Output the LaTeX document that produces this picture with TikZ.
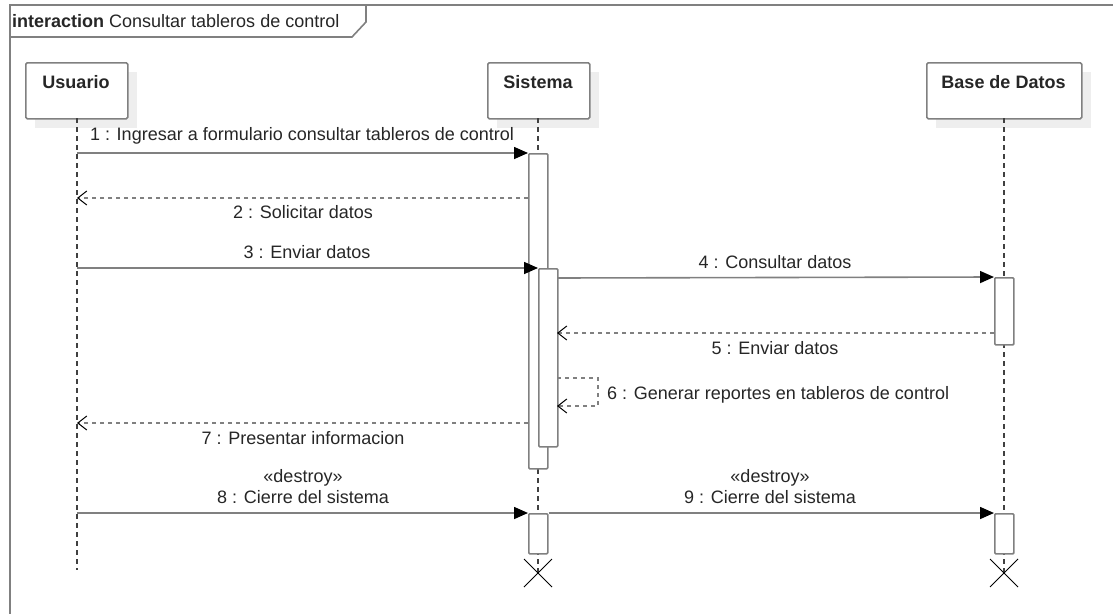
\documentclass[tikz,border=0pt]{standalone}
\usepackage{fontspec}
\setmainfont{Liberation Sans}
\usetikzlibrary{arrows.meta,calc}
\definecolor{linegray}{HTML}{808080}
\definecolor{txt}{HTML}{262626}
\definecolor{shadowgray}{HTML}{EEEEEE}
\tikzset{
  every node/.style={text=txt, font=\fontsize{18}{21}\selectfont, inner sep=0pt},
  lifebox/.style={draw=linegray, fill=white, line width=1.6pt, rounded corners=1.5pt},
  shadowbox/.style={fill=shadowgray},
  actbar/.style={draw=linegray, fill=white, line width=1.6pt, rounded corners=1pt},
  lifeline/.style={draw=black!75, line width=1.4pt, dash pattern=on 5pt off 4pt},
  callmsg/.style={draw=linegray, line width=1.6pt, -{Triangle[length=14pt,width=12pt,fill=black,color=black]}},
  replymsg/.style={draw=linegray, line width=1.6pt, dash pattern=on 4pt off 4pt, -{Straight Barb[length=9pt,width=14pt,line width=1pt,color=black]}},
  xmark/.style={draw=black, line width=1pt},
}
\begin{document}
\begin{tikzpicture}[x=1pt,y=-1pt]
\useasboundingbox (0,0) rectangle (1113,613);
\clip (0,0) rectangle (1113,613);
% frame
\draw[linegray, line width=2pt] (10,5) rectangle (1130,630);
\draw[linegray, line width=1.6pt, fill=white] (10,5) -- (366,5) -- (366,22) -- (352,37) -- (10,37) -- cycle;
\node[anchor=west] (title) at (12,21) {\textbf{interaction} Consultar tableros de control};

% lifeline head shadows
\fill[shadowbox] (35,72) rectangle (137,128);
\fill[shadowbox] (497,72) rectangle (599,128);
\fill[shadowbox] (936,72) rectangle (1091,128);

% lifeline heads
\node[lifebox, minimum width=102pt, minimum height=56pt, anchor=north west] (usr) at (25,62) {};
\node[font=\fontsize{18}{21}\selectfont\bfseries] (usrlbl) at (76,82) {Usuario};
\node[lifebox, minimum width=102pt, minimum height=56pt, anchor=north west] (sys) at (487,62) {};
\node[font=\fontsize{18}{21}\selectfont\bfseries] (syslbl) at (538,82) {Sistema};
\node[lifebox, minimum width=155pt, minimum height=56pt, anchor=north west] (bd) at (926,62) {};
\node[font=\fontsize{18}{21}\selectfont\bfseries] (bdlbl) at (1003.5,82) {Base de Datos};

% lifeline ends
\coordinate (usrend) at (77,570);
\coordinate (sysx) at (538,573);
\coordinate (bdx) at (1004,573);

% lifelines
\draw[lifeline] (77,118) -- (usrend);
\draw[lifeline] (538,118) -- (sysx);
\draw[lifeline] (1004,118) -- (bdx);

% activation bars
\node[actbar, minimum width=19pt, minimum height=315pt, anchor=north west] (s1) at (528,153) {};
\node[actbar, minimum width=19pt, minimum height=178pt, anchor=north west] (s2) at (538,268) {};
\node[actbar, minimum width=19pt, minimum height=40pt, anchor=north west] (s3) at (528,513) {};
\node[actbar, minimum width=19pt, minimum height=67pt, anchor=north west] (b1) at (994,277) {};
\node[actbar, minimum width=19pt, minimum height=40pt, anchor=north west] (b2) at (994,513) {};

% message anchor points
\coordinate (u1) at (77,153);
\coordinate (u2) at (77,198);
\coordinate (u3) at (77,268);
\coordinate (u7) at (77,423);
\coordinate (u8) at (77,513);
\coordinate (s2r) at (557,278);
\coordinate (s2r5) at (557,333);
\coordinate (s6a) at (557,378);
\coordinate (s6b) at (598,378);
\coordinate (s6c) at (598,406);
\coordinate (s6d) at (557,406);
\coordinate (s1l2) at (528,198);
\coordinate (s1l7) at (528,423);
\coordinate (b1l5) at (994,333);

% messages
\draw[callmsg] (u1) -- (s1.north west);
\node (m1) at (302,136) {1 : Ingresar a formulario consultar tableros de control};

\draw[replymsg] (s1l2) -- (u2);
\node (m2) at (303,212) {2 : Solicitar datos};

\draw[callmsg] (u3) -- (s2.north west);
\node (m3) at (307,252) {3 : Enviar datos};

\draw[callmsg] (s2r) -- (b1.north west);
\node (m4) at (775,262) {4 : Consultar datos};

\draw[replymsg] (b1l5) -- (s2r5);
\node (m5) at (775,348) {5 : Enviar datos};

\draw[replymsg] (s6a) -- (s6b) -- (s6c) -- (s6d);
\node[anchor=west] (m6) at (607,395) {6 : Generar reportes en tableros de control};

\draw[replymsg] (s1l7) -- (u7);
\node (m7) at (303,438) {7 : Presentar informacion};

\draw[callmsg] (u8) -- (s3.north west);
\node (m8s) at (303,478) {«destroy»};
\node (m8) at (303,497) {8 : Cierre del sistema};

\draw[callmsg] (s3.north east) -- (b2.north west);
\node (m9s) at (770,478) {«destroy»};
\node (m9) at (770,497) {9 : Cierre del sistema};

% destruction marks
\draw[xmark] ($(sysx)+(-14,-14)$) -- ($(sysx)+(14,14)$);
\draw[xmark] ($(sysx)+(-14,14)$) -- ($(sysx)+(14,-14)$);
\draw[xmark] ($(bdx)+(-14,-14)$) -- ($(bdx)+(14,14)$);
\draw[xmark] ($(bdx)+(-14,14)$) -- ($(bdx)+(14,-14)$);
\end{tikzpicture}
\end{document}
